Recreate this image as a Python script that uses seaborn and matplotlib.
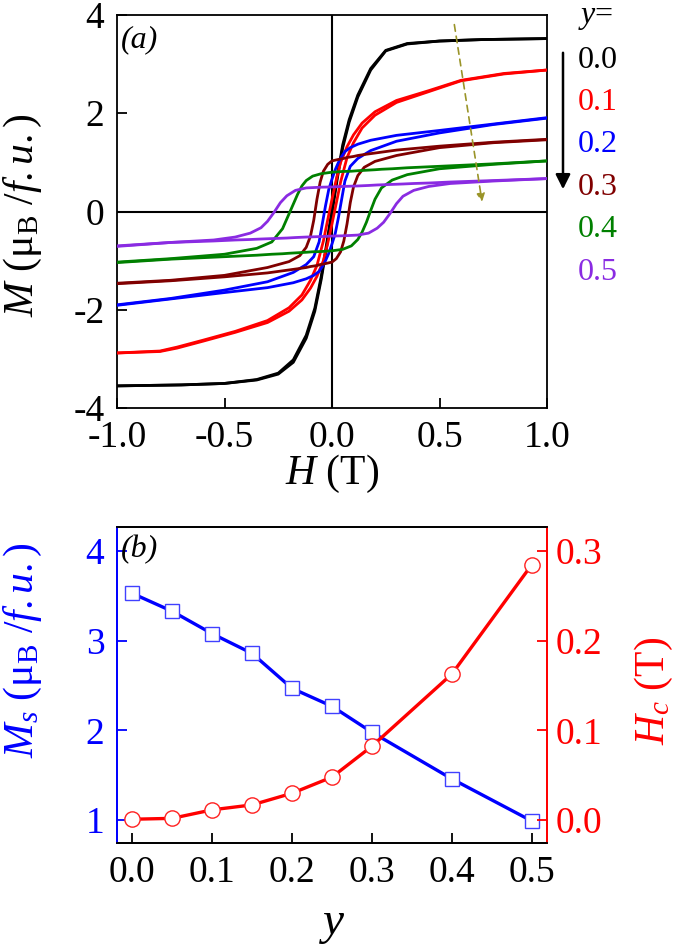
import matplotlib
matplotlib.use("Agg")
import matplotlib.pyplot as plt
import numpy as np
import pandas as pd
import seaborn as sns

""" data read off the figure """

# (a) hysteresis loops, field H in T, M in muB/f.u.
# up = branch coming down from +1 T, dn = branch going up from -1 T
h_y00 = [-1, -0.7, -0.5, -0.35, -0.25, -0.18, -0.12, -0.08, -0.05, -0.025, 0,
         0.025, 0.05, 0.08, 0.12, 0.18, 0.25, 0.35, 0.5, 0.7, 1.0]
m_up_y00 = [-3.55, -3.53, -3.50, -3.42, -3.29, -3.02, -2.52, -1.97, -1.32, -0.66, 0.04,
            0.74, 1.36, 1.87, 2.37, 2.91, 3.28, 3.42, 3.47, 3.50, 3.52]
m_dn_y00 = [-3.55, -3.53, -3.50, -3.43, -3.31, -3.07, -2.58, -2.03, -1.38, -0.72, -0.04,
            0.68, 1.30, 1.82, 2.33, 2.88, 3.27, 3.41, 3.47, 3.50, 3.52]

h_y01 = [-1, -0.8, -0.72, -0.6, -0.45, -0.3, -0.2, -0.14, -0.1, -0.07, -0.04, -0.02, 0,
         0.02, 0.04, 0.07, 0.1, 0.14, 0.2, 0.3, 0.45, 0.6, 0.8, 1.0]
m_up_y01 = [-2.88, -2.84, -2.76, -2.62, -2.44, -2.22, -1.96, -1.70, -1.40, -1.10, -0.60, -0.17, 0.25,
            0.65, 1.00, 1.32, 1.56, 1.80, 2.03, 2.26, 2.46, 2.67, 2.81, 2.88]
m_dn_y01 = [-2.88, -2.85, -2.78, -2.64, -2.46, -2.26, -2.03, -1.80, -1.56, -1.32, -1.00, -0.65, -0.25,
            0.17, 0.60, 1.10, 1.40, 1.70, 1.96, 2.22, 2.44, 2.66, 2.80, 2.88]

h_y02 = [-1, -0.75, -0.5, -0.3, -0.18, -0.12, -0.085, -0.06, -0.045, -0.03, -0.015, 0,
         0.015, 0.03, 0.045, 0.06, 0.085, 0.12, 0.18, 0.3, 0.5, 0.75, 1.0]
m_up_y02 = [-1.90, -1.77, -1.60, -1.43, -1.24, -1.08, -0.92, -0.62, -0.25, 0.12, 0.45, 0.66,
            0.85, 1.00, 1.12, 1.22, 1.30, 1.37, 1.45, 1.55, 1.65, 1.78, 1.91]
m_dn_y02 = [-1.91, -1.78, -1.65, -1.55, -1.45, -1.37, -1.30, -1.22, -1.12, -1.00, -0.85, -0.66,
            -0.45, -0.12, 0.25, 0.62, 0.92, 1.08, 1.24, 1.43, 1.60, 1.77, 1.90]

h_y03 = [-1, -0.75, -0.5, -0.3, -0.2, -0.15, -0.12, -0.1, -0.085, -0.07, -0.055, -0.04, -0.02, 0,
         0.02, 0.04, 0.055, 0.07, 0.085, 0.1, 0.12, 0.15, 0.2, 0.3, 0.5, 0.75, 1.0]
m_up_y03 = [-1.46, -1.40, -1.30, -1.14, -1.02, -0.90, -0.73, -0.50, -0.18, 0.25, 0.60, 0.82, 0.96, 1.03,
            1.05, 1.07, 1.08, 1.10, 1.11, 1.12, 1.14, 1.16, 1.19, 1.25, 1.33, 1.41, 1.47]
m_dn_y03 = [-1.47, -1.41, -1.33, -1.25, -1.19, -1.16, -1.14, -1.12, -1.11, -1.10, -1.08, -1.07, -1.05, -1.03,
            -0.96, -0.82, -0.60, -0.25, 0.18, 0.50, 0.73, 0.90, 1.02, 1.14, 1.30, 1.40, 1.46]

h_y04 = [-1, -0.75, -0.5, -0.35, -0.28, -0.23, -0.2, -0.18, -0.16, -0.14, -0.12, -0.09, -0.05, 0,
         0.05, 0.09, 0.12, 0.14, 0.16, 0.18, 0.2, 0.23, 0.28, 0.35, 0.5, 0.75, 1.0]
m_up_y04 = [-1.03, -0.96, -0.87, -0.75, -0.62, -0.35, -0.05, 0.15, 0.35, 0.52, 0.63, 0.72, 0.77, 0.80,
            0.815, 0.82, 0.83, 0.835, 0.84, 0.845, 0.85, 0.86, 0.87, 0.89, 0.92, 0.97, 1.03]
m_dn_y04 = [-1.04, -0.97, -0.92, -0.89, -0.87, -0.86, -0.85, -0.845, -0.84, -0.835, -0.83, -0.82, -0.815, -0.80,
            -0.77, -0.70, -0.57, -0.42, -0.22, 0.02, 0.25, 0.48, 0.64, 0.75, 0.87, 0.96, 1.03]

h_y05 = [-1, -0.75, -0.55, -0.45, -0.38, -0.33, -0.3, -0.27, -0.24, -0.21, -0.17, -0.12, -0.05, 0,
         0.05, 0.12, 0.17, 0.21, 0.24, 0.27, 0.3, 0.33, 0.38, 0.45, 0.55, 0.75, 1.0]
m_up_y05 = [-0.70, -0.63, -0.58, -0.52, -0.44, -0.33, -0.20, -0.02, 0.18, 0.32, 0.43, 0.48, 0.495, 0.50,
            0.51, 0.52, 0.53, 0.54, 0.545, 0.55, 0.555, 0.56, 0.57, 0.58, 0.60, 0.63, 0.67]
m_dn_y05 = [-0.71, -0.63, -0.60, -0.58, -0.57, -0.56, -0.555, -0.55, -0.545, -0.54, -0.53, -0.52, -0.51, -0.50,
            -0.495, -0.48, -0.44, -0.34, -0.22, -0.04, 0.16, 0.31, 0.43, 0.51, 0.57, 0.62, 0.67]

loop_labels = ["0.0", "0.1", "0.2", "0.3", "0.4", "0.5"]
loop_colors = ["black", "#ff0000", "#0000ff", "#800000", "#008000", "#8a2be2"]
loops = [(h_y00, m_up_y00, m_dn_y00), (h_y01, m_up_y01, m_dn_y01), (h_y02, m_up_y02, m_dn_y02),
         (h_y03, m_up_y03, m_dn_y03), (h_y04, m_up_y04, m_dn_y04), (h_y05, m_up_y05, m_dn_y05)]

# (b) saturation moment and coercive field vs y
y_frac = [0.0, 0.05, 0.1, 0.15, 0.2, 0.25, 0.3, 0.4, 0.5]
ms = [3.53, 3.33, 3.08, 2.86, 2.47, 2.27, 1.98, 1.46, 0.99]
hc = [0.001, 0.002, 0.0115, 0.017, 0.030, 0.048, 0.0825, 0.163, 0.285]

""" style """

sns.set_style("ticks")
plt.rcParams["font.family"] = ["Liberation Serif", "DejaVu Serif"]
plt.rcParams["mathtext.fontset"] = "custom"
plt.rcParams["mathtext.rm"] = "Liberation Serif"
plt.rcParams["mathtext.it"] = "Liberation Serif:italic"
plt.rcParams["axes.unicode_minus"] = False
for k in ["text.color", "axes.labelcolor", "xtick.color", "ytick.color", "axes.edgecolor"]:
    plt.rcParams[k] = "black"

TICK = 27
LAB = 30

fig = plt.figure(figsize=(6.85, 9.49), dpi=100)
W, Hh = 685, 949
ax1 = fig.add_axes([117 / W, 1 - 408 / Hh, 430 / W, 393 / Hh])
ax2 = fig.add_axes([117 / W, 1 - 843 / Hh, 430 / W, 316 / Hh])

""" panel (a) """

ax1.axhline(0, color="black", lw=1.5, zorder=1)
ax1.axvline(0, color="black", lw=1.5, zorder=1)
for (h, up, dn), lab, col in zip(loops, loop_labels, loop_colors):
    df = pd.DataFrame({"H": h[::-1] + h, "M": up[::-1] + dn,
                       "branch": ["up"] * len(h) + ["dn"] * len(h)})
    sns.lineplot(data=df, x="H", y="M", units="branch", estimator=None, sort=False,
                 color=col, lw=2.0, ax=ax1, legend=False, zorder=3)

ax1.set_xlim(-1, 1)
ax1.set_ylim(-4, 4)
ax1.set_xticks([-1.0, -0.5, 0.0, 0.5, 1.0])
ax1.set_xticklabels(["-1.0", "-0.5", "0.0", "0.5", "1.0"])
ax1.set_yticks([-4, -2, 0, 2, 4])
ax1.tick_params(direction="in", length=7, width=1.3, labelsize=TICK, pad=9)
for s in ax1.spines.values():
    s.set_linewidth(1.3)
ax1.set_xlabel("$H$ (T)", fontsize=LAB)
ax1.set_ylabel("$M$ (μ$_\\mathrm{B}$ /$f.u.$)", fontsize=LAB)
ax1.xaxis.set_label_coords(0.5, -0.115)
ax1.yaxis.set_label_coords(-0.17, 0.49)
ax1.text(0.008, 0.975, "(a)", transform=ax1.transAxes, fontsize=23, style="italic",
         ha="left", va="top")

# dashed trend arrow
ax1.annotate("", xy=(0.70, 0.14), xytext=(0.567, 3.86),
             arrowprops=dict(arrowstyle="-|>", color="#9a9428", lw=1.2, ls=(0, (4, 3)),
                             mutation_scale=12))

# y= labels on the right
fig.text(578 / W, 1 - 18 / Hh, "$y$=", fontsize=23, ha="left", va="center")
for i, (lab, col) in enumerate(zip(loop_labels, loop_colors)):
    fig.text(578 / W, 1 - (60 + 42.4 * i) / Hh, lab, color=col, fontsize=23,
             ha="left", va="center")
fig.patches.append(matplotlib.patches.FancyArrowPatch(
    (563 / W, 1 - 50 / Hh), (563 / W, 1 - 192 / Hh), transform=fig.transFigure,
    arrowstyle="-|>", mutation_scale=22, color="black", lw=1.8))

""" panel (b) """

ax3 = ax2.twinx()
sns.lineplot(x=y_frac, y=ms, ax=ax2, color="#0000ff", lw=2.4, marker="s", markersize=10,
             markerfacecolor="white", markeredgecolor="#4040ff", markeredgewidth=1.0)
sns.lineplot(x=y_frac, y=hc, ax=ax3, color="#ff0000", lw=2.4, marker="o", markersize=11,
             markerfacecolor="white", markeredgecolor="#ff2020", markeredgewidth=1.0)

ax2.set_xlim(-0.019, 0.519)
ax2.set_ylim(0.745, 4.27)
ax3.set_ylim(-0.0255, 0.327)
ax2.set_xticks([0.0, 0.1, 0.2, 0.3, 0.4, 0.5])
ax2.set_xticklabels(["0.0", "0.1", "0.2", "0.3", "0.4", "0.5"])
ax2.set_yticks([1, 2, 3, 4])
ax3.set_yticks([0.0, 0.1, 0.2, 0.3])
ax3.set_yticklabels(["0.0", "0.1", "0.2", "0.3"])

ax2.tick_params(axis="x", direction="in", length=7, width=1.3, labelsize=TICK, pad=9)
ax2.tick_params(axis="y", direction="in", length=7, width=1.3, labelsize=TICK, pad=9,
                colors="#0000ff")
ax3.tick_params(axis="y", direction="in", length=7, width=1.3, labelsize=TICK, pad=6,
                colors="#ff0000")
for ax in (ax2, ax3):
    for s in ax.spines.values():
        s.set_linewidth(1.3)
ax3.spines["left"].set_color("#0000ff")
ax3.spines["right"].set_color("#ff0000")
ax2.spines["left"].set_color("#0000ff")
ax2.spines["right"].set_color("#ff0000")

ax2.set_xlabel("$y$", fontsize=LAB + 4)
ax2.set_ylabel("$M_s$ (μ$_\\mathrm{B}$ /$f.u.$)", fontsize=LAB, color="#0000ff")
ax3.set_ylabel("$H_c$ (T)", fontsize=LAB, color="#ff0000")
ax2.xaxis.set_label_coords(0.5, -0.19)
ax2.yaxis.set_label_coords(-0.17, 0.61)
ax3.yaxis.set_label_coords(1.2, 0.48)
ax2.text(0.008, 0.975, "(b)", transform=ax2.transAxes, fontsize=23, style="italic",
         ha="left", va="top")

fig.savefig("out.png", dpi=100)
